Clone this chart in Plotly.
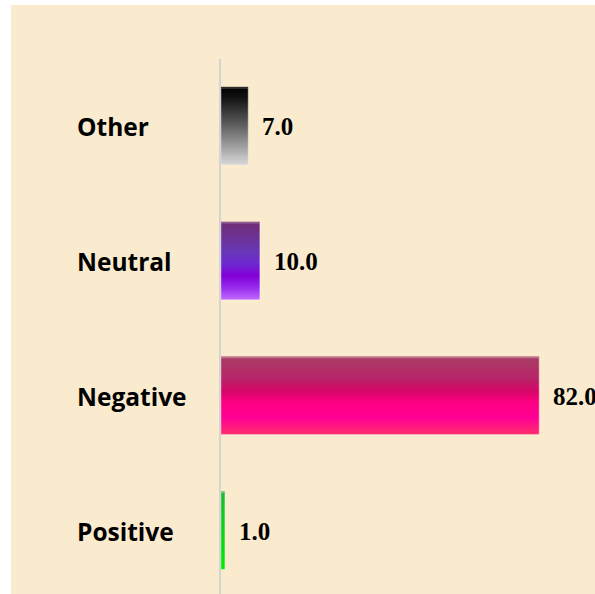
import plotly.graph_objects as go

# ---- data ----
categories = ["Positive", "Negative", "Neutral", "Other"]
values = [1.0, 82.0, 10.0, 7.0]

# ---- styles ----
gradients = {
    "Other": [(0, (0, 0, 0)), (0.15, (20, 20, 20)), (0.5, (95, 95, 95)), (1, (212, 212, 212))],
    "Neutral": [(0, (112, 46, 115)), (0.4, (105, 55, 185)), (0.55, (110, 40, 210)),
                (0.7, (130, 0, 215)), (0.85, (150, 40, 235)), (1, (190, 100, 255))],
    "Negative": [(0, (168, 62, 100)), (0.3, (185, 35, 105)), (0.45, (215, 5, 105)),
                 (0.6, (255, 0, 130)), (0.8, (255, 0, 150)), (1, (255, 45, 110))],
    "Positive": [(0, (30, 185, 50)), (1, (0, 235, 0))],
}
BEIGE = "rgb(250,235,206)"
BAR_W = 0.57
N = 40
L_MARGIN = 221
PLOT_W = 595 - L_MARGIN


def interp(stops, t):
    for (t0, c0), (t1, c1) in zip(stops[:-1], stops[1:]):
        if t0 <= t <= t1:
            f = (t - t0) / (t1 - t0) if t1 > t0 else 0
            c = [round(a + (b - a) * f) for a, b in zip(c0, c1)]
            return "rgb(%d,%d,%d)" % tuple(c)
    return "rgb(%d,%d,%d)" % stops[-1][1]


fig = go.Figure()
step = BAR_W / N
for i in range(N):
    t = (i + 0.5) / N
    fig.add_trace(go.Bar(
        x=values, y=categories, orientation="h",
        width=step * 1.6,
        offset=BAR_W / 2 - (i + 1) * step,
        marker=dict(color=[interp(gradients[c], t) for c in categories],
                    line=dict(width=0)),
        showlegend=False, hoverinfo="skip",
    ))
# faint outline
fig.add_trace(go.Bar(
    x=values, y=categories, orientation="h", width=BAR_W,
    marker=dict(color="rgba(0,0,0,0)", line=dict(color="rgba(255,255,255,0.35)", width=1)),
    showlegend=False, hoverinfo="skip",
))

annotations = []
for c, v in zip(categories, values):
    annotations.append(dict(
        x=v, y=c, xref="x", yref="y", text="%.1f" % v, showarrow=False,
        xanchor="left", xshift=12,
        font=dict(family="Liberation Serif", size=25, color="black", weight=700),
    ))
    annotations.append(dict(
        x=(75 - L_MARGIN) / PLOT_W, y=c, xref="paper", yref="y", text=c, showarrow=False,
        xanchor="left",
        font=dict(family="Open Sans", size=24.5, color="black", weight=700),
    ))

fig.update_layout(
    width=595, height=594,
    margin=dict(l=L_MARGIN, r=0, t=59, b=0, pad=0),
    paper_bgcolor="white",
    plot_bgcolor=BEIGE,
    barmode="overlay",
    annotations=annotations,
    shapes=[dict(type="rect", xref="paper", yref="paper",
                 x0=(11 - L_MARGIN) / PLOT_W, x1=1.05, y0=-0.05, y1=1.1009,
                 fillcolor=BEIGE, line=dict(width=0), layer="below")],
    xaxis=dict(range=[0, 96.4], showgrid=False, zeroline=False,
               showticklabels=False, ticks=""),
    yaxis=dict(range=[-0.467, 3.5], showgrid=False, zeroline=False,
               showticklabels=False, ticks="", showline=True,
               linecolor="rgb(212,212,212)", linewidth=2,
               categoryorder="array", categoryarray=categories),
)

fig.write_html("out.html", config={"displayModeBar": False},
               post_script="document.body.style.margin='0px';")
